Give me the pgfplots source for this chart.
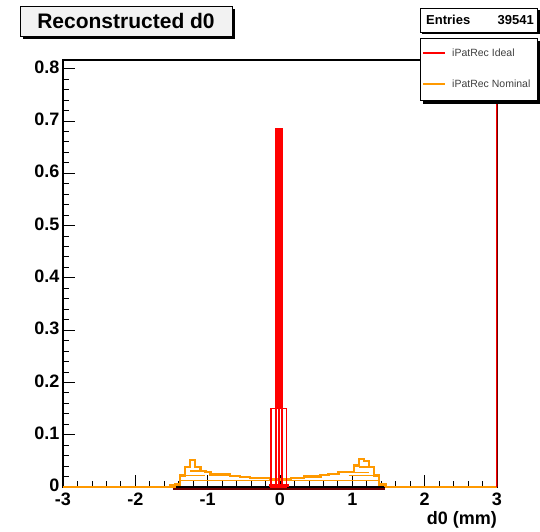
\documentclass[border=0pt]{standalone}
\usepackage{fontspec}
\setmainfont{Liberation Sans}
\usepackage{pgfplots}
\pgfplotsset{compat=1.18}
\definecolor{rootorange}{RGB}{255,153,0}
\definecolor{rootred}{RGB}{255,0,0}
\definecolor{rootdark}{RGB}{110,0,0}
\definecolor{titlefill}{RGB}{242,242,242}
\begin{document}
\begin{tikzpicture}[x=1pt,y=1pt]
\useasboundingbox (0,0) rectangle (540,531);
\begin{axis}[at={(63pt,44pt)}, anchor=south west, width=434pt, height=427pt, scale only axis, clip=false,
  xmin=-3, xmax=3, ymin=0, ymax=0.8165,
  xtick={-3,-2,-1,0,1,2,3}, xticklabels={-3,-2,-1,0,1,2,3},
  ytick={0,0.1,0.2,0.3,0.4,0.5,0.6,0.7,0.8}, yticklabels={0,0.1,0.2,0.3,0.4,0.5,0.6,0.7,0.8},
  minor x tick num=4, minor y tick num=4,
  tick align=inside, xtick pos=bottom, ytick pos=left,
  major tick length=12pt, minor tick length=6pt,
  tick style={black, line width=0.8pt},
  axis line style={black, line width=1.1pt},
  ticklabel style={font=\fontsize{18}{18}\selectfont\bfseries},
  xticklabel style={yshift=-2.5pt},
  yticklabel style={yshift=1.5pt},
  xlabel={d0 (mm)},
  xlabel style={at={(rel axis cs:1,0)}, anchor=north east, yshift=-24pt, inner sep=0pt, font=\fontsize{18}{18}\selectfont\bfseries},
]
% dark baseline
\addplot[rootdark, line width=2pt] coordinates {(-1.48,-0.003) (1.45,-0.003)};
% orange stacked components (inner lines)
\addplot[rootorange, line width=1.7pt, const plot] coordinates {(-1.52,0) (-1.45,0.006) (-1.38,0.0124) (1.30,0.0124) (1.37,0.004) (1.45,0)};
\addplot[rootorange, line width=1.7pt] coordinates {(-1.38,0.022) (-1.03,0.022)};
\addplot[rootorange, line width=1.7pt] coordinates {(-1.24,0.031) (-1.10,0.031)};
\addplot[rootorange, line width=1.7pt] coordinates {(0.95,0.022) (1.30,0.022)};
\addplot[rootorange, line width=1.7pt] coordinates {(1.02,0.028) (1.23,0.028)};
\addplot[rootorange, line width=1.7pt] coordinates {(1.09,0.038) (1.23,0.038)};
% orange outer histogram
\addplot[rootorange, line width=2.2pt, const plot] coordinates {
(-3,0) (-1.52,0.004) (-1.38,0.022) (-1.31,0.038) (-1.24,0.051) (-1.17,0.038)
(-1.10,0.031) (-1.03,0.028) (-0.96,0.024) (-0.69,0.021) (-0.55,0.019) (-0.41,0.017)
(-0.13,0.016) (0.15,0.017) (0.33,0.020) (0.56,0.023) (0.67,0.025) (0.81,0.028)
(1.02,0.041) (1.09,0.054) (1.16,0.050) (1.23,0.038) (1.30,0.022) (1.37,0.005)
(1.46,0) (3,0)};
% red histogram
\addplot[rootred, line width=2.5pt] coordinates {(-0.15,0.003) (0.13,0.003)};
\addplot[rootred, line width=1.8pt, ybar interval, fill=none] coordinates {(-0.12,0.15) (-0.01,0.15) (0.09,0.15)};
\addplot[rootred, line width=1.8pt, ybar interval, fill=none] coordinates {(-0.055,0.684) (0.03,0.684)};
\addplot[rootred, fill=rootred, line width=1pt] coordinates {(-0.055,0.15) (-0.055,0.684) (0.03,0.684) (0.03,0.15)} --cycle;
% right frame edge overdrawn
\addplot[rootdark, line width=1.3pt] coordinates {(3.009,0) (3.009,0.8165)};
\addplot[rootred, line width=1.3pt] coordinates {(2.994,0) (2.994,0.8165)};
\end{axis}
% title box
\fill[black] (23,492) rectangle (235,522);
\draw[black, line width=0.8pt, fill=titlefill] (20,495) rectangle (232,525);
\node[font=\fontsize{21}{21}\selectfont\bfseries] at (126,510) {Reconstructed d0};
% entries box
\fill[black] (422,497) rectangle (540,521);
\draw[black, line width=0.8pt, fill=white] (420,499) rectangle (537,523);
\node[anchor=west, font=\fontsize{13}{13}\selectfont\bfseries, inner sep=0pt] at (426,511) {Entries};
\node[anchor=east, font=\fontsize{13}{13}\selectfont\bfseries, inner sep=0pt] at (534,511) {39541};
% legend box
\fill[black] (423,427) rectangle (540,490);
\draw[black, line width=0.8pt, fill=white] (420,431) rectangle (537,493);
\draw[rootred, line width=2.2pt] (423,478) -- (445,478);
\draw[rootorange, line width=2.2pt] (423,447) -- (445,447);
\node[anchor=west, font=\fontsize{10.5}{10.5}\selectfont, text=black!75, inner sep=0pt] at (452,478) {iPatRec Ideal};
\node[anchor=west, font=\fontsize{10.5}{10.5}\selectfont, text=black!75, inner sep=0pt] at (452,447) {iPatRec Nominal};
\end{tikzpicture}
\end{document}
